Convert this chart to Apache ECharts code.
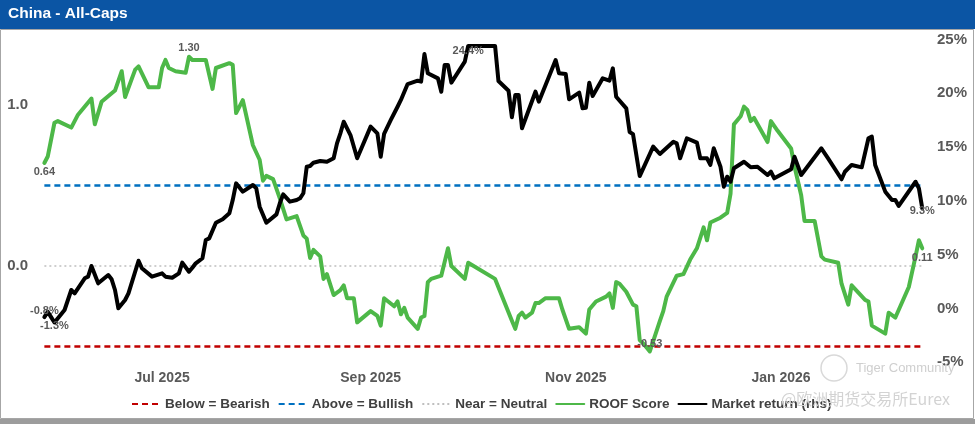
<!DOCTYPE html>
<html>
<head>
<meta charset="utf-8">
<script src="https://cdn.jsdelivr.net/npm/echarts@6/dist/echarts.min.js"></script>
<style>
html,body{margin:0;padding:0;background:#fff;}
#chart{width:975px;height:424px;}
</style>
</head>
<body>
<div id="chart"></div>
<script>
// ---------- DATA ----------
const titleText = 'China - All-Caps';

const xTickDates = ['2025-07-01', '2025-09-01', '2025-11-01', '2026-01-01'];
const xTickLabels = ['Jul 2025', 'Sep 2025', 'Nov 2025', 'Jan 2026'];
const xRange = ['2025-05-26', '2026-02-14'];

const leftTicks = [0, 1];
const rightRange = [-5, 25];

const levelDates = ['2025-05-27', '2026-02-12'];
const bearishLevel = [-0.5, -0.5];
const bullishLevel = [0.5, 0.5];
const neutralLevel = [0, 0];

const roofDates = ['2025-05-27','2025-05-28','2025-05-30','2025-05-31','2025-06-04','2025-06-06','2025-06-10','2025-06-11','2025-06-13','2025-06-17','2025-06-19','2025-06-20','2025-06-23','2025-06-24','2025-06-27','2025-06-30','2025-07-01','2025-07-02','2025-07-03','2025-07-05','2025-07-08','2025-07-09','2025-07-10','2025-07-12','2025-07-14','2025-07-16','2025-07-17','2025-07-21','2025-07-22','2025-07-23','2025-07-25','2025-07-28','2025-07-30','2025-07-31','2025-08-01','2025-08-03','2025-08-05','2025-08-07','2025-08-10','2025-08-12','2025-08-13','2025-08-14','2025-08-15','2025-08-17','2025-08-18','2025-08-19','2025-08-21','2025-08-23','2025-08-24','2025-08-25','2025-08-27','2025-08-28','2025-09-01','2025-09-03','2025-09-04','2025-09-05','2025-09-08','2025-09-09','2025-09-10','2025-09-11','2025-09-12','2025-09-15','2025-09-16','2025-09-17','2025-09-18','2025-09-19','2025-09-22','2025-09-24','2025-09-25','2025-09-29','2025-09-30','2025-10-08','2025-10-13','2025-10-14','2025-10-15','2025-10-16','2025-10-17','2025-10-19','2025-10-20','2025-10-21','2025-10-23','2025-10-27','2025-10-28','2025-10-30','2025-11-02','2025-11-04','2025-11-05','2025-11-07','2025-11-10','2025-11-11','2025-11-12','2025-11-13','2025-11-14','2025-11-16','2025-11-18','2025-11-19','2025-11-20','2025-11-21','2025-11-23','2025-11-26','2025-11-27','2025-11-28','2025-12-01','2025-12-03','2025-12-05','2025-12-07','2025-12-09','2025-12-10','2025-12-11','2025-12-14','2025-12-16','2025-12-17','2025-12-18','2025-12-20','2025-12-21','2025-12-22','2025-12-23','2025-12-24','2025-12-28','2025-12-29','2025-12-31','2026-01-04','2026-01-05','2026-01-07','2026-01-08','2026-01-11','2026-01-13','2026-01-14','2026-01-18','2026-01-19','2026-01-21','2026-01-22','2026-01-26','2026-01-27','2026-01-28','2026-02-01','2026-02-02','2026-02-04','2026-02-08','2026-02-10','2026-02-11','2026-02-12'];
const roofValues = [0.64,0.68,0.89,0.90,0.86,0.94,1.04,0.88,1.02,1.09,1.21,1.05,1.22,1.24,1.11,1.11,1.23,1.28,1.23,1.21,1.20,1.30,1.28,1.28,1.28,1.10,1.23,1.26,1.25,0.95,1.03,0.75,0.66,0.53,0.56,0.54,0.42,0.29,0.31,0.19,0.17,0.05,0.10,0.06,-0.08,-0.05,-0.18,-0.15,-0.12,-0.20,-0.20,-0.35,-0.28,-0.31,-0.37,-0.20,-0.25,-0.22,-0.30,-0.26,-0.32,-0.39,-0.32,-0.31,-0.10,-0.08,-0.06,0.11,0.00,-0.08,0.02,-0.08,-0.34,-0.39,-0.31,-0.29,-0.32,-0.29,-0.23,-0.23,-0.20,-0.20,-0.27,-0.39,-0.38,-0.42,-0.27,-0.22,-0.19,-0.17,-0.26,-0.10,-0.11,-0.16,-0.24,-0.25,-0.46,-0.48,-0.53,-0.34,-0.28,-0.19,-0.06,-0.05,0.04,0.11,0.24,0.16,0.27,0.30,0.33,0.45,0.88,0.93,0.99,0.97,0.90,0.92,0.77,0.90,0.84,0.73,0.62,0.44,0.28,0.28,0.06,0.04,0.02,-0.11,-0.24,-0.12,-0.21,-0.22,-0.37,-0.42,-0.29,-0.32,-0.13,0.06,0.16,0.11];

const marketDates = ['2025-05-27','2025-05-28','2025-05-29','2025-05-30','2025-06-02','2025-06-04','2025-06-05','2025-06-08','2025-06-09','2025-06-10','2025-06-12','2025-06-15','2025-06-16','2025-06-17','2025-06-18','2025-06-20','2025-06-21','2025-06-24','2025-06-25','2025-06-28','2025-07-01','2025-07-02','2025-07-04','2025-07-06','2025-07-07','2025-07-09','2025-07-10','2025-07-11','2025-07-13','2025-07-14','2025-07-15','2025-07-17','2025-07-19','2025-07-21','2025-07-22','2025-07-23','2025-07-25','2025-07-28','2025-07-29','2025-07-30','2025-08-01','2025-08-04','2025-08-05','2025-08-06','2025-08-08','2025-08-10','2025-08-11','2025-08-12','2025-08-13','2025-08-14','2025-08-15','2025-08-17','2025-08-19','2025-08-21','2025-08-22','2025-08-23','2025-08-24','2025-08-26','2025-08-28','2025-09-01','2025-09-03','2025-09-04','2025-09-05','2025-09-07','2025-09-09','2025-09-10','2025-09-12','2025-09-15','2025-09-16','2025-09-17','2025-09-18','2025-09-21','2025-09-22','2025-09-23','2025-09-24','2025-09-25','2025-09-29','2025-09-30','2025-10-08','2025-10-09','2025-10-12','2025-10-13','2025-10-14','2025-10-15','2025-10-16','2025-10-20','2025-10-21','2025-10-24','2025-10-26','2025-10-27','2025-10-29','2025-10-30','2025-11-02','2025-11-03','2025-11-04','2025-11-05','2025-11-06','2025-11-09','2025-11-11','2025-11-12','2025-11-13','2025-11-16','2025-11-17','2025-11-18','2025-11-20','2025-11-24','2025-11-26','2025-11-30','2025-12-01','2025-12-02','2025-12-04','2025-12-07','2025-12-08','2025-12-10','2025-12-11','2025-12-12','2025-12-14','2025-12-15','2025-12-16','2025-12-17','2025-12-18','2025-12-21','2025-12-23','2025-12-25','2025-12-28','2025-12-29','2025-12-30','2026-01-04','2026-01-05','2026-01-07','2026-01-13','2026-01-15','2026-01-19','2026-01-20','2026-01-22','2026-01-25','2026-01-27','2026-01-28','2026-01-29','2026-02-01','2026-02-03','2026-02-04','2026-02-05','2026-02-10','2026-02-11','2026-02-12'];
const marketValues = [-0.8,-0.3,-0.8,-1.3,-0.14,1.72,1.41,2.81,2.96,3.95,2.34,3.11,2.71,1.72,0.02,0.79,1.41,4.44,3.74,2.96,3.27,2.96,2.86,3.27,4.26,3.42,3.79,4.20,4.67,6.37,6.52,7.97,8.29,8.85,10.08,11.63,10.86,11.48,11.17,9.46,7.97,8.75,9.78,10.61,9.93,10.08,10.24,10.71,13.18,13.24,13.55,13.71,13.64,13.96,15.35,16.28,17.36,16.12,13.96,16.90,16.28,14.11,16.22,17.52,18.75,19.38,20.86,21.17,21.08,23.65,21.86,21.39,20.15,22.63,22.63,20.99,22.94,24.4,24.4,21.14,20.24,17.77,19.84,19.84,16.75,20.15,19.22,21.54,23.09,21.86,21.79,19.44,20.06,18.61,18.66,20.99,19.75,21.39,21.17,22.32,19.68,18.6,16.4,16.2,12.31,15.04,14.36,15.50,15.35,13.96,15.82,15.41,13.96,13.96,13.34,14.89,13.18,11.32,12.25,11.78,13.03,13.64,13.12,13.18,12.41,12.71,12.10,12.94,14.11,12.41,14.89,13.96,12.01,12.71,13.34,13.12,15.82,15.97,13.34,10.86,10.08,10.08,9.53,11.78,11.16,9.3];

const legendNames = ['Below = Bearish', 'Above = Bullish', 'Near = Neutral', 'ROOF Score', 'Market return (rhs)'];

// ---------- STYLE ----------
const FONT = '"Liberation Sans", Arial, sans-serif';
const AXIS_COLOR = '#595959';
const GREEN = '#4DB848';

function ts(d) { const p = d.split('-'); return Date.UTC(+p[0], +p[1] - 1, +p[2]); }

const labelBase = { show: true, fontSize: 11, fontWeight: 'bold', color: '#595959', fontFamily: FONT };

function withLabels(dates, vals, specs, fmt) {
  const roles = {
    first: 0,
    last: vals.length - 1,
    max: vals.indexOf(Math.max.apply(null, vals)),
    min: vals.indexOf(Math.min.apply(null, vals))
  };
  return dates.map(function (d, i) {
    const item = { value: [ts(d), vals[i]] };
    Object.keys(specs).forEach(function (role) {
      if (roles[role] === i) {
        item.label = Object.assign({}, labelBase, { formatter: fmt(vals[i]) }, specs[role]);
      }
    });
    return item;
  });
}

const roofData = withLabels(roofDates, roofValues, {
  first: { position: 'bottom', distance: 3 },
  max: { position: 'top', distance: 3 },
  min: { position: 'top', distance: 2, offset: [2, 0] },
  last: { position: 'bottom', distance: 4, offset: [-2, 0] }
}, function (v) { return v.toFixed(2); });

const marketData = withLabels(marketDates, marketValues, {
  first: { position: 'top', distance: 1, offset: [5, 0] },
  min: { position: 'bottom', distance: -2 },
  max: { position: 'bottom', distance: 0 },
  last: { position: 'bottom', distance: -3, offset: [-3, 0] }
}, function (v) { return v.toFixed(1) + '%'; });

function levelData(vals) { return levelDates.map(function (d, i) { return [ts(d), vals[i]]; }); }

const tickTs = xTickDates.map(ts);

const chart = echarts.init(document.getElementById('chart'), null, { renderer: 'canvas' });

const option = {
  animation: false,
  backgroundColor: '#ffffff',
  textStyle: { fontFamily: FONT },
  grid: { left: 41, right: 46, top: 39.5, bottom: 61.7, containLabel: false },
  legend: {
    data: legendNames,
    left: 126,
    bottom: 8,
    itemWidth: 28,
    itemHeight: 10,
    itemGap: 8,
    itemStyle: { opacity: 0 },
    textStyle: { fontSize: 13.5, fontWeight: 'bold', color: '#404040', fontFamily: FONT }
  },
  xAxis: {
    type: 'value',
    min: ts(xRange[0]),
    max: ts(xRange[1]),
    scale: true,
    axisLine: { show: false },
    axisTick: { show: false },
    splitLine: { show: false },
    axisLabel: {
      customValues: tickTs,
      formatter: function (val) {
        const i = tickTs.indexOf(+val);
        return i >= 0 ? xTickLabels[i] : '';
      },
      color: AXIS_COLOR, fontSize: 14, fontWeight: 'bold', margin: 9, fontFamily: FONT,
      hideOverlap: false
    }
  },
  yAxis: [
    {
      type: 'value',
      min: -0.598,
      max: 1.407,
      axisLine: { show: false },
      axisTick: { show: false },
      splitLine: { show: false },
      axisLabel: {
        customValues: leftTicks,
        formatter: function (v) { return Number(v).toFixed(1); },
        color: AXIS_COLOR, fontSize: 15, fontWeight: 'bold', margin: 13, fontFamily: FONT
      }
    },
    {
      type: 'value',
      position: 'right',
      min: rightRange[0],
      max: rightRange[1],
      interval: 5,
      axisLine: { show: false },
      axisTick: { show: false },
      splitLine: { show: false },
      axisLabel: {
        formatter: function (v) { return v + '%'; },
        color: AXIS_COLOR, fontSize: 15, fontWeight: 'bold', margin: 8, fontFamily: FONT
      }
    }
  ],
  series: [
    {
      name: legendNames[0], type: 'line', yAxisIndex: 0, data: levelData(bearishLevel),
      symbol: 'none', silent: true,
      lineStyle: { color: '#C00000', width: 2.5, type: [6, 4] },
      itemStyle: { color: '#C00000' }
    },
    {
      name: legendNames[1], type: 'line', yAxisIndex: 0, data: levelData(bullishLevel),
      symbol: 'none', silent: true,
      lineStyle: { color: '#0070C0', width: 2.5, type: [6, 4] },
      itemStyle: { color: '#0070C0' }
    },
    {
      name: legendNames[2], type: 'line', yAxisIndex: 0, data: levelData(neutralLevel),
      symbol: 'none', silent: true,
      lineStyle: { color: '#BFBFBF', width: 1.5, type: [2, 3] },
      itemStyle: { color: '#BFBFBF' }
    },
    {
      name: legendNames[3], type: 'line', yAxisIndex: 0, data: roofData,
      symbol: 'circle', symbolSize: 0, showSymbol: true,
      lineStyle: { color: GREEN, width: 4, join: 'round', cap: 'round' },
      itemStyle: { color: GREEN },
      labelLayout: { hideOverlap: false }
    },
    {
      name: legendNames[4], type: 'line', yAxisIndex: 1, data: marketData,
      symbol: 'circle', symbolSize: 0, showSymbol: true,
      lineStyle: { color: '#000000', width: 4, join: 'round', cap: 'round' },
      itemStyle: { color: '#000000' },
      labelLayout: { hideOverlap: false }
    }
  ],
  graphic: [
    { type: 'rect', left: 0, top: 0, shape: { width: 975, height: 29 }, style: { fill: '#0B55A4' }, z: 10 },
    { type: 'text', left: 8, top: 6, style: { text: titleText, fill: '#ffffff', font: 'bold 15.5px ' + FONT }, z: 11 },
    { type: 'rect', shape: { x: 0.5, y: 29.5, width: 973, height: 389 }, style: { fill: 'none', stroke: '#A6A6A6', lineWidth: 1 }, z: 9 },
    { type: 'rect', shape: { x: 0, y: 419, width: 975, height: 5 }, style: { fill: '#9C9C9C' }, z: 9 },
    { type: 'circle', shape: { cx: 834, cy: 368, r: 13 }, style: { fill: 'none', stroke: '#D9D9D9', lineWidth: 1.5 }, z: 8 },
    { type: 'text', left: 856, top: 362, style: { text: 'Tiger Community', fill: '#CFCFCF', font: '13px ' + FONT }, z: 8 },
    { type: 'text', left: 781, top: 391, style: { text: '@欧洲期货交易所Eurex', fill: '#D3D3D3', font: '16px "Noto Sans CJK SC", sans-serif' }, z: 8 }
  ]
};

chart.setOption(option);
</script>
</body>
</html>
